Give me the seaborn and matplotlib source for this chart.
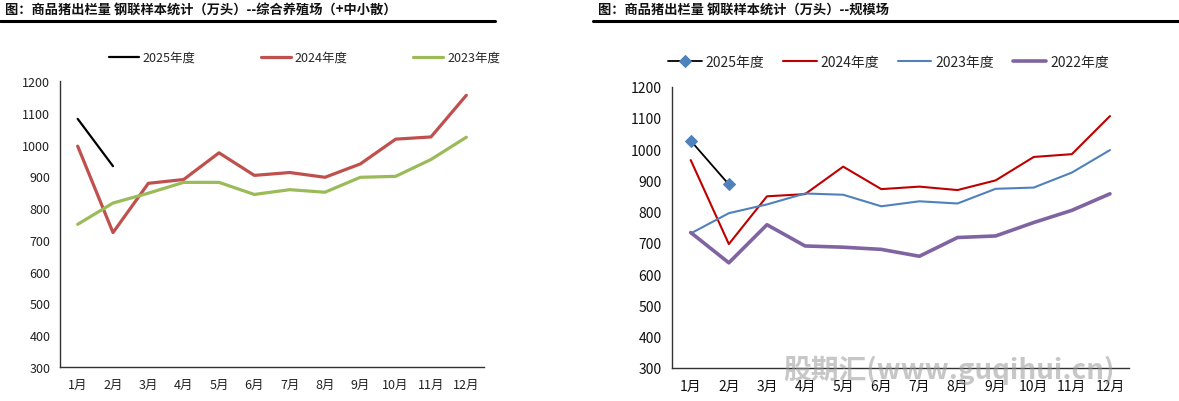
import matplotlib
matplotlib.use("Agg")
import matplotlib.pyplot as plt
import seaborn as sns
import numpy as np
import pandas as pd

months = ["1月", "2月", "3月", "4月", "5月", "6月", "7月", "8月", "9月", "10月", "11月", "12月"]

# Left panel: 综合养殖场(+中小散)
left_2025 = [1081, 932]
left_2024 = [995, 723, 878, 890, 974, 903, 912, 897, 939, 1017, 1024, 1155]
left_2023 = [749, 816, 847, 881, 881, 843, 858, 850, 897, 900, 953, 1023]

# Right panel: 规模场
right_2025 = [1027, 887]
right_2024 = [965, 696, 849, 856, 944, 872, 880, 869, 900, 975, 984, 1106]
right_2023 = [730, 795, 823, 858, 854, 817, 833, 826, 873, 877, 925, 997]
right_2022 = [733, 636, 758, 690, 686, 679, 657, 717, 722, 765, 804, 857]

yticks = [300, 400, 500, 600, 700, 800, 900, 1000, 1100, 1200]

sns.set_theme(style="white")
plt.rcParams['font.family'] = ['Noto Sans CJK SC', 'DejaVu Sans']
plt.rcParams['axes.unicode_minus'] = False

fig = plt.figure(figsize=(11.79, 4.02), dpi=100)
fig.patch.set_facecolor("white")

ax1 = fig.add_axes([0.0509, 0.0846, 0.3596, 0.7114])
ax2 = fig.add_axes([0.5697, 0.0828, 0.3879, 0.6990])


def series_df(vals):
    return pd.DataFrame({"x": np.arange(len(vals)), "y": vals})


# Left
sns.lineplot(data=series_df(left_2025), x="x", y="y", ax=ax1, color="black", lw=1.6, label="2025年度")
sns.lineplot(data=series_df(left_2024), x="x", y="y", ax=ax1, color="#C0504D", lw=2.3, label="2024年度")
sns.lineplot(data=series_df(left_2023), x="x", y="y", ax=ax1, color="#9BBB59", lw=2.3, label="2023年度")

# Right
sns.lineplot(data=series_df(right_2025), x="x", y="y", ax=ax2, color="black", lw=1.3, label="2025年度",
             marker="D", markersize=6, markerfacecolor="#4F81BD", markeredgecolor="#4F81BD")
sns.lineplot(data=series_df(right_2024), x="x", y="y", ax=ax2, color="#C00000", lw=1.5, label="2024年度")
sns.lineplot(data=series_df(right_2023), x="x", y="y", ax=ax2, color="#4F81BD", lw=1.5, label="2023年度")
sns.lineplot(data=series_df(right_2022), x="x", y="y", ax=ax2, color="#8064A2", lw=2.6, label="2022年度")

for ax, fs, col in [(ax1, 9, "#222222"), (ax2, 10, "#111111")]:
    ax.set_xlim(-0.5, 11.5)
    ax.set_ylim(300, 1200)
    ax.set_yticks(yticks)
    ax.set_yticklabels([str(v) for v in yticks], fontsize=fs, color=col)
    ax.set_xticks(np.arange(-0.5, 12, 1))
    ax.set_xticklabels([])
    ax.set_xticks(np.arange(12), minor=True)
    ax.set_xticklabels(months, minor=True, fontsize=fs, color=col)
    ax.tick_params(axis="x", which="major", direction="out", length=4, width=1, color="#333333")
    ax.tick_params(axis="x", which="minor", length=0, pad=8)
    ax.tick_params(axis="y", direction="out", length=4, width=1, color="#333333", pad=3)
    ax.set_xlabel("")
    ax.set_ylabel("")
    for s in ["top", "right"]:
        ax.spines[s].set_visible(False)
    for s in ["left", "bottom"]:
        ax.spines[s].set_color("#333333")
        ax.spines[s].set_linewidth(1.0)
    ax.grid(False)
    ax.set_facecolor("white")

ax1.legend(loc="lower left", bbox_to_anchor=(0.088, 1.02), ncol=3, frameon=False, fontsize=9,
           handlelength=2.4, columnspacing=5.25, handletextpad=0.3)
ax2.legend(loc="lower left", bbox_to_anchor=(-0.035, 1.02), ncol=4, frameon=False, fontsize=10,
           handlelength=2.4, columnspacing=1.35, handletextpad=0.3)

# Titles and rules
fig.text(0.004, 0.975, "图：商品猪出栏量 钢联样本统计（万头）--综合养殖场（+中小散）", fontsize=9.5,
         fontweight="bold", va="center", ha="left", color="#111111")
fig.text(0.507, 0.975, "图：商品猪出栏量 钢联样本统计（万头）--规模场", fontsize=9.5,
         fontweight="bold", va="center", ha="left", color="#111111")
fig.add_artist(plt.Line2D([0.0, 0.42], [0.945, 0.945], color="black", lw=2.2, transform=fig.transFigure))
fig.add_artist(plt.Line2D([0.503, 1.0], [0.945, 0.945], color="black", lw=2.2, transform=fig.transFigure))

# Watermark
fig.text(0.805, 0.078, "股期汇(www.guqihui.cn)", fontsize=20, fontweight="bold", fontstyle="italic",
         color="#9a9a9a", alpha=0.55, ha="center", va="center")

fig.savefig("out.png", dpi=100, facecolor="white")
